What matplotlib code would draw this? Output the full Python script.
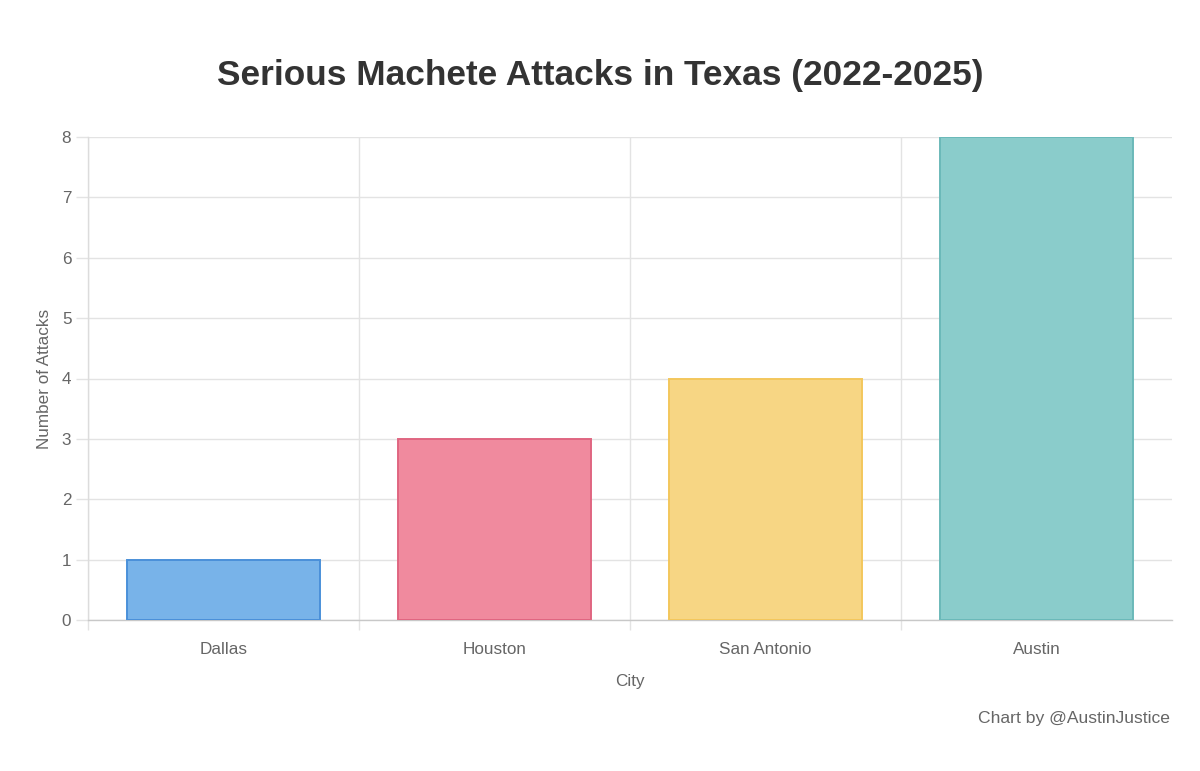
import matplotlib
matplotlib.use("Agg")
import matplotlib.pyplot as plt
from matplotlib.ticker import MultipleLocator, FixedLocator

cities = ["Dallas", "Houston", "San Antonio", "Austin"]
attacks = [1, 3, 4, 8]
fill_colors = ["#78b3e9", "#f08a9e", "#f7d684", "#8acccb"]
edge_colors = ["#4a90d9", "#e06681", "#f3c75c", "#6bb9b9"]
title = "Serious Machete Attacks in Texas (2022-2025)"
xlabel = "City"
ylabel = "Number of Attacks"
credit = "Chart by @AustinJustice"

plt.rcParams['font.family'] = ['Liberation Sans', 'DejaVu Sans']

W, H = 1200, 771
fig = plt.figure(figsize=(W / 100, H / 100), dpi=100)
left, right, top, bottom = 88, 1172, 137, 620
ax = fig.add_axes([left / W, 1 - bottom / H, (right - left) / W, (bottom - top) / H])

x = list(range(len(cities)))
ax.bar(x, attacks, width=0.71, color=fill_colors, edgecolor=edge_colors, linewidth=1.4, zorder=3)

ax.set_xlim(-0.5, len(cities) - 0.5)
ax.set_ylim(0, 8)
ax.yaxis.set_major_locator(MultipleLocator(1))
ax.set_xticks(x)
ax.set_xticklabels(cities)
ax.xaxis.set_minor_locator(FixedLocator([i - 0.5 for i in range(len(cities))]))

grid_c = "#e3e3e3"
ax.grid(axis='y', which='major', color=grid_c, linewidth=1, zorder=0)
ax.grid(axis='x', which='minor', color=grid_c, linewidth=1, zorder=0)
ax.tick_params(axis='x', which='major', length=0, pad=16, labelsize=12.3, labelcolor="#666666")
ax.tick_params(axis='x', which='minor', length=7, color=grid_c, width=1)
ax.tick_params(axis='y', which='major', length=8.5, color=grid_c, width=1, pad=3.5, labelsize=12.3, labelcolor="#666666")

for s in ['top', 'right']:
    ax.spines[s].set_visible(False)
ax.spines['left'].set_color("#dcdcdc")
ax.spines['bottom'].set_color("#c8c8c8")
ax.spines['left'].set_linewidth(1)
ax.spines['bottom'].set_linewidth(1)

ax.set_xlabel(xlabel, fontsize=12.3, color="#666666", labelpad=12)
ax.set_ylabel(ylabel, fontsize=12.3, color="#666666", labelpad=7)

fig.text(600 / W, 1 - 76 / H, title, ha='center', va='center', fontsize=25.4, fontweight='bold', color="#333333")
fig.text(1170 / W, 1 - 719 / H, credit, ha='right', va='center', fontsize=12.6, color="#666666")

fig.savefig("out.png", dpi=100, facecolor="white")
